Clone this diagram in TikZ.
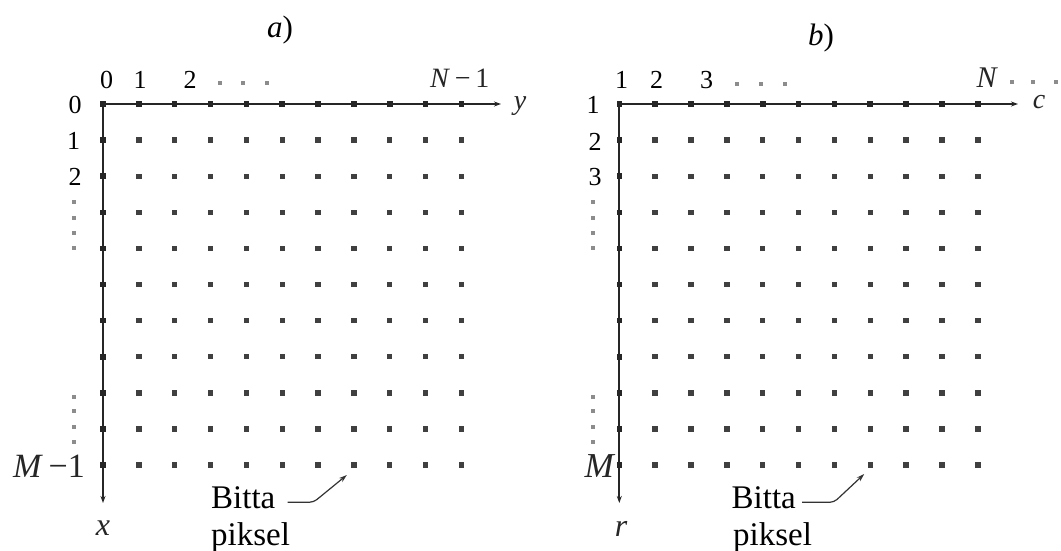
\documentclass[tikz,border=0pt]{standalone}
\usepackage{fontspec}
\setmainfont{Liberation Serif}
\usetikzlibrary{arrows.meta}
\begin{document}
\begin{tikzpicture}[x=1pt,y=-1pt,
  axis/.style={line width=1.9pt, draw=black!85, -{Stealth[length=7pt,width=5pt]}},
  px/.style={fill=black!75, minimum size=5.4pt, inner sep=0pt, draw=none, rectangle},
  tk/.style={fill=black!85, minimum size=5.6pt, inner sep=0pt, rectangle},
  vd/.style={fill=black!45, minimum size=3.2pt, inner sep=0pt, rectangle},
  dig/.style={font=\fontsize{26}{28}\selectfont, inner sep=0pt, text=black},
  lett/.style={font=\fontsize{30}{32}\selectfont\itshape, inner sep=0pt, text=black!85},
  ttl/.style={font=\fontsize{31}{34}\selectfont, inner sep=0pt},
  txt/.style={font=\fontsize{33}{36}\selectfont, inner sep=0pt},
  note/.style={line width=1.2pt, draw=black!80, rounded corners=4pt, -{Stealth[length=8pt,width=5pt]}}
]
\useasboundingbox[fill=white] (0,0) rectangle (1061,551);

% ---------------- panel a ----------------
\node[ttl, anchor=base] (ta) at (280,38) {\textit{a})};
\coordinate (Oa) at (103,104);
\coordinate (Ya) at (501,104);
\coordinate (Xa) at (103,503);
\draw[axis] (Oa) -- (Ya);
\draw[axis] (Oa) -- (Xa);
\foreach \i in {0,...,10} \node[tk] (tah\i) at (103+35.84*\i,104) {};
\foreach \j in {1,...,10} \node[tk] (tav\j) at (103,104+36.1*\j) {};
\foreach \i in {1,...,10} \foreach \j in {1,...,10}
  \node[px] (pa-\i-\j) at (103+35.84*\i,104+36.1*\j) {};
% top labels
\node[dig] (a0) at (106.7,80) {0};
\node[dig] (a1) at (140,80) {1};
\node[dig] (a2) at (190,80) {2};
\foreach \k/\xx in {1/220,2/243,3/267} \node[vd] (ahd\k) at (\xx,83) {};
\node[lett, anchor=base west, font=\fontsize{28}{30}\selectfont] (aN) at (430,88) {\textit{N}\,−\,1};
\node[lett, anchor=base, font=\fontsize{28}{30}\selectfont\itshape] (ay) at (520,110) {y};
% left labels
\node[dig] (l0) at (75,105) {0};
\node[dig] (l1) at (73.5,141) {1};
\node[dig] (l2) at (75,177) {2};
\foreach \k/\yy in {1/202,2/218,3/233,4/248,5/397,6/411,7/427,8/442} \node[vd] (avd\k) at (74,\yy) {};
\node[lett, anchor=east, font=\fontsize{34}{36}\selectfont] (aM) at (85,466) {\textit{M}\,−1};
\node[lett, anchor=base, font=\fontsize{32}{34}\selectfont\itshape] (ax) at (103,535) {x};
% note
\node[txt, anchor=base west] (bta) at (211,508) {Bitta};
\node[txt, anchor=base west] (btp) at (211,545) {piksel};
\draw[note] ([xshift=12pt,yshift=-5pt]bta.east) -- ++(26,0) -- ([xshift=-7pt,yshift=-10pt]pa-7-10.center);

% ---------------- panel b ----------------
\node[ttl, anchor=base] (tb) at (821,46) {\textit{b})};
\coordinate (Ob) at (619.3,104);
\coordinate (Cb) at (1018,104);
\coordinate (Rb) at (619.3,503);
\draw[axis] (Ob) -- (Cb);
\draw[axis] (Ob) -- (Rb);
\foreach \i in {0,...,10} \node[tk] (tbh\i) at (619.3+35.85*\i,104) {};
\foreach \j in {1,...,10} \node[tk] (tbv\j) at (619.3,104+36.1*\j) {};
\foreach \i in {1,...,10} \foreach \j in {1,...,10}
  \node[px] (pb-\i-\j) at (619.3+35.85*\i,104+36.1*\j) {};
% top labels
\node[dig] (b1) at (621.7,80) {1};
\node[dig] (b2) at (656.7,80) {2};
\node[dig] (b3) at (706.7,80) {3};
\foreach \k/\xx in {1/737,2/761,3/785} \node[vd] (bhd\k) at (\xx,84) {};
\node[lett] (bN) at (986.7,78) {N};
\foreach \k/\xx in {1/1012,2/1033,3/1056} \node[vd] (bnd\k) at (\xx,82) {};
\node[lett, anchor=base, font=\fontsize{28}{30}\selectfont\itshape] (bc) at (1039,109) {c};
% left labels
\node[dig] (m1) at (593,105) {1};
\node[dig] (m2) at (595,141.7) {2};
\node[dig] (m3) at (595,177) {3};
\foreach \k/\yy in {1/202,2/218,3/233,4/248,5/397,6/411,7/427,8/442} \node[vd] (bvd\k) at (593,\yy) {};
\node[lett, anchor=east, font=\fontsize{35}{37}\selectfont\itshape] (bM) at (614,466) {M};
\node[lett, anchor=base, font=\fontsize{32}{34}\selectfont\itshape] (br) at (621,536) {r};
% note
\node[txt, anchor=base west] (btb) at (731.5,508) {Bitta};
\node[txt, anchor=base west] (btq) at (733,545) {piksel};
\draw[note] ([xshift=6pt,yshift=-5pt]btb.east) -- ++(32,0) -- ([xshift=-6pt,yshift=-9pt]pb-7-10.center);
\end{tikzpicture}
\end{document}
